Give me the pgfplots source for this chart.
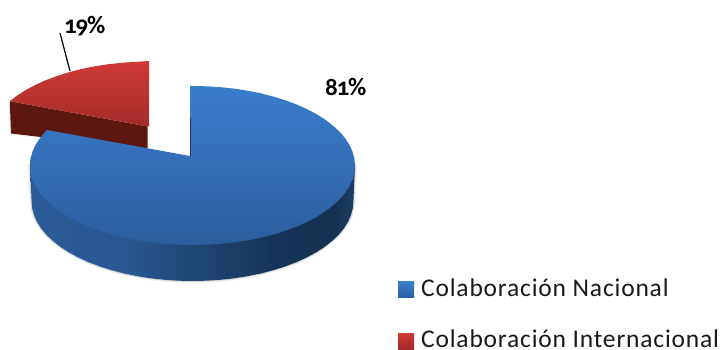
\documentclass[border=0pt]{standalone}
\usepackage{fontspec}
\setmainfont{Carlito}
\newfontfamily\oldnum[Numbers=OldStyle,LetterSpace=-5]{Carlito}
\newfontfamily\keyfont[LetterSpace=3.2]{Carlito}
\usepackage{pgfplots}
\usepackage{pgfplotstable}
\pgfplotsset{compat=1.18}

\definecolor{blueHi}{HTML}{3B7DCD}
\definecolor{blueLo}{HTML}{2A5E9E}
\definecolor{redHi}{HTML}{CF3A35}
\definecolor{redLo}{HTML}{A22C2A}
\definecolor{redWall}{HTML}{5C1710}
\definecolor{legendText}{HTML}{1A1A1A}

% Wall of the large slice: darkens from left to right
\pgfdeclarehorizontalshading{bluewall}{100bp}{
  rgb(0bp)=(.165,.36,.60);
  rgb(25bp)=(.165,.36,.60);
  rgb(40bp)=(.155,.34,.57);
  rgb(52bp)=(.12,.27,.44);
  rgb(62bp)=(.09,.20,.35);
  rgb(72bp)=(.085,.19,.32);
  rgb(75bp)=(.11,.24,.40);
  rgb(100bp)=(.11,.24,.40)}

% Rim of the large slice, upper face (pixel-style coordinates, y grows downward)
\pgfplotstableread{
x y
190.0 86.0
192.5 86.0
206.7 86.3
220.7 87.2
234.6 88.7
248.1 90.8
261.2 93.4
273.8 96.7
285.7 100.4
297.0 104.6
307.4 109.3
317.0 114.4
325.6 119.9
333.2 125.8
339.8 131.9
345.2 138.3
349.5 144.9
352.5 151.7
354.4 158.6
355.0 165.5
354.4 172.4
352.5 179.3
349.5 186.1
345.2 192.7
339.8 199.1
333.2 205.2
325.6 211.1
317.0 216.6
307.4 221.7
297.0 226.4
285.7 230.6
273.8 234.3
261.2 237.6
248.1 240.2
234.6 242.3
220.7 243.8
206.7 244.7
192.5 245.0
178.3 244.7
164.3 243.8
150.4 242.3
136.9 240.2
123.8 237.6
111.2 234.3
99.3 230.6
88.0 226.4
77.6 221.7
68.0 216.6
59.4 211.1
51.8 205.2
45.2 199.1
39.8 192.7
35.5 186.1
32.5 179.3
30.6 172.4
30.0 165.5
30.6 158.6
32.5 151.7
35.5 144.9
39.8 138.3
45.2 131.9
46.7 130.0
190.0 156.0
}\blueTop

% Wall of the large slice
\pgfplotstableread{
x y
30.0 165.5
355.0 165.5
353.4 201.5
352.8 208.4
350.9 215.3
347.9 222.1
343.7 228.7
338.3 235.1
331.8 241.2
324.3 247.1
315.8 252.6
306.3 257.7
296.0 262.4
284.8 266.6
272.9 270.3
260.5 273.6
247.5 276.2
234.2 278.3
220.4 279.8
206.6 280.7
192.5 281.0
178.4 280.7
164.6 279.8
150.8 278.3
137.5 276.2
124.5 273.6
112.1 270.3
100.2 266.6
89.0 262.4
78.7 257.7
69.2 252.6
60.7 247.1
53.2 241.2
46.7 235.1
41.3 228.7
37.1 222.1
34.1 215.3
32.2 208.4
31.6 201.5
}\blueSide

% Upper face of the detached slice
\pgfplotstableread{
x y
149.0 61.0
136.3 61.8
122.3 62.7
108.4 64.2
94.9 66.3
81.8 68.9
69.2 72.2
57.3 75.9
46.0 80.1
35.6 84.8
26.0 89.9
17.4 95.4
12.7 98.9
9.8 101.2
147.5 126.5
149.0 126.5
}\redTop

% Wall of the detached slice
\pgfplotstableread{
x y
9.8 101.2
147.5 126.5
147.5 149.5
11.0 133.5
}\redSide

\pgfplotstableread{
x y
60 33
70 71
}\leader

\pgfplotstableread{
x y
190 118
190 156
}\notchEdge

\pgfplotstableread{
x y
398 282
414 282
414 298
398 298
}\keyBlue

\pgfplotstableread{
x y
398 333
414 333
414 349
398 349
}\keyRed

\begin{document}
\begin{tikzpicture}
\path[use as bounding box] (0,0) rectangle (724pt,350pt);
\begin{axis}[
  at={(0,0)}, anchor=south west,
  scale only axis, width=724pt, height=350pt,
  xmin=0, xmax=724, ymin=0, ymax=350,
  y dir=reverse, hide axis, clip=false]

  % soft shadow round the wall of the large slice
  \addplot[draw=black, line width=4pt, opacity=.06, line join=round] table {\blueSide} -- cycle;
  \addplot[draw=black, line width=2pt, opacity=.10, line join=round] table {\blueSide} -- cycle;
  \addplot[draw=black, line width=3pt, opacity=.05, line join=round] table {\redSide} -- cycle;

  % detached slice
  \addplot[draw=none, fill=redWall] table {\redSide} -- cycle;
  \addplot[draw=none, top color=redHi, bottom color=redLo] table {\redTop} -- cycle;

  % large slice
  \addplot[draw=none, shading=bluewall] table {\blueSide} -- cycle;
  \addplot[draw=none, top color=blueHi, bottom color=blueLo] table {\blueTop} -- cycle;
  \addplot[draw=blueLo!60!black, line width=.8pt] table {\notchEdge};

  % leader line of the small slice
  \addplot[draw=black, line width=1.2pt] table {\leader};

  % key swatches
  \addplot[draw=none, top color=blueHi, bottom color=blueLo] table {\keyBlue} -- cycle;
  \addplot[draw=none, top color=redHi, bottom color=redLo] table {\keyRed} -- cycle;

  \node[anchor=base west, inner sep=0pt, text=black] at (axis cs:64,34)
    {\fontsize{25}{25}\selectfont\oldnum\bfseries 19\%};
  \node[anchor=base west, inner sep=0pt, text=black] at (axis cs:325,96)
    {\fontsize{25}{25}\selectfont\oldnum\bfseries 81\%};
  \node[anchor=base west, inner sep=0pt, text=legendText] at (axis cs:421,297)
    {\fontsize{25.5}{25.5}\selectfont\keyfont Colaboración Nacional};
  \node[anchor=base west, inner sep=0pt, text=legendText] at (axis cs:421,347)
    {\fontsize{25.5}{25.5}\selectfont\keyfont Colaboración Internacional};
\end{axis}
\end{tikzpicture}
\end{document}
